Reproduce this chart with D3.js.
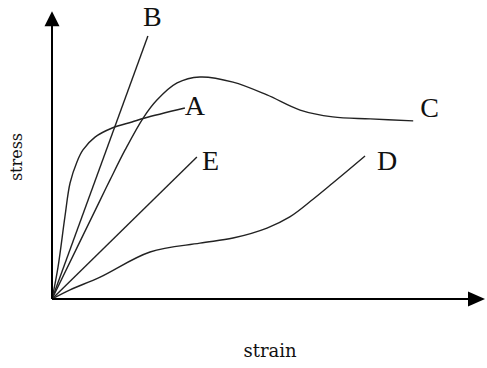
<!DOCTYPE html>
<html>
<head>
<meta charset="utf-8">
<script src="https://cdn.jsdelivr.net/npm/d3@7"></script>
<style>
  body { margin: 0; background: #fff; }
  text { fill: #111; }
</style>
</head>
<body>
<div id="vis"></div>
<script>
// stress-strain curves (strain, stress in arbitrary units)
var curveNames = ["A", "B", "C", "D", "E"];
var strainA = [0, 0.14, 0.30, 0.42, 0.58, 0.72, 1.00, 1.40, 1.86, 2.16, 3.09];
var stressA = [0, 1.12, 2.88, 4.07, 4.81, 5.23, 5.68, 6.00, 6.21, 6.35, 6.70];
var strainB = [0, 2.23];
var stressB = [0, 9.23];
var strainC = [0, 1.12, 1.35, 1.70, 2.12, 2.44, 2.91, 3.44, 4.21, 5.00, 5.77, 6.53, 7.40, 8.40];
var stressC = [0, 3.47, 4.18, 5.23, 6.35, 6.98, 7.58, 7.79, 7.61, 7.16, 6.63, 6.39, 6.32, 6.25];
var strainD = [0, 0.42, 1.12, 2.28, 3.44, 4.21, 5.00, 5.53, 6.07, 6.53, 7.28];
var stressD = [0, 0.32, 0.77, 1.65, 1.96, 2.14, 2.49, 2.88, 3.50, 4.07, 5.02];
var strainE = [0, 3.37];
var stressE = [0, 4.98];
var axisEnd = [10.07, 10.1]; // strain, stress reached by the arrows

var width = 487, height = 368;

var svg = d3.select("#vis").append("svg")
  .attr("width", width)
  .attr("height", height);

var x = d3.scaleLinear().domain([0, 10]).range([52, 482]);
var y = d3.scaleLinear().domain([0, 10]).range([299, 14]);

var series = {
  A: d3.zip(strainA, stressA),
  B: d3.zip(strainB, stressB),
  C: d3.zip(strainC, stressC),
  D: d3.zip(strainD, stressD),
  E: d3.zip(strainE, stressE)
};

// label offsets from the curve end, in pixels
var labelPos = {
  A: [0, 7], B: [-5, -10], C: [7, -4], D: [12, 14], E: [5, 13]
};

var line = d3.line()
  .x(function(d) { return x(d[0]); })
  .y(function(d) { return y(d[1]); })
  .curve(d3.curveCatmullRom.alpha(0.5));

svg.append("g").selectAll("path")
  .data(curveNames)
  .enter().append("path")
  .attr("d", function(n) { return line(series[n]); })
  .attr("fill", "none")
  .attr("stroke", "#222")
  .attr("stroke-width", 1.4);

svg.append("g").selectAll("text")
  .data(curveNames)
  .enter().append("text")
  .attr("x", function(n) { var p = series[n][series[n].length - 1]; return x(p[0]) + labelPos[n][0]; })
  .attr("y", function(n) { var p = series[n][series[n].length - 1]; return y(p[1]) + labelPos[n][1]; })
  .attr("font-family", "Liberation Serif, serif")
  .attr("font-size", 28)
  .text(function(n) { return n; });

// axes with arrow heads
var ox = x(0), oy = y(0);
var xt = x(axisEnd[0]), yt = y(axisEnd[1]);

svg.append("line")
  .attr("x1", ox).attr("y1", oy)
  .attr("x2", xt - 14).attr("y2", oy)
  .attr("stroke", "#000").attr("stroke-width", 2);
svg.append("line")
  .attr("x1", ox).attr("y1", oy)
  .attr("x2", ox).attr("y2", yt + 12)
  .attr("stroke", "#000").attr("stroke-width", 2);

svg.append("path")
  .attr("d", "M" + xt + "," + oy + "L" + (xt - 17) + "," + (oy - 7.5) + "L" + (xt - 17) + "," + (oy + 7.5) + "Z")
  .attr("fill", "#000");
svg.append("path")
  .attr("d", "M" + ox + "," + yt + "L" + (ox - 7.5) + "," + (yt + 15) + "L" + (ox + 7.5) + "," + (yt + 15) + "Z")
  .attr("fill", "#000");

svg.append("text")
  .attr("x", 270).attr("y", 357)
  .attr("text-anchor", "middle")
  .attr("font-family", "DejaVu Serif, serif")
  .attr("font-size", 18)
  .text("strain");

svg.append("text")
  .attr("transform", "translate(22,157) rotate(-90)")
  .attr("text-anchor", "middle")
  .attr("font-family", "DejaVu Serif, serif")
  .attr("font-size", 16)
  .text("stress");
</script>
</body>
</html>
